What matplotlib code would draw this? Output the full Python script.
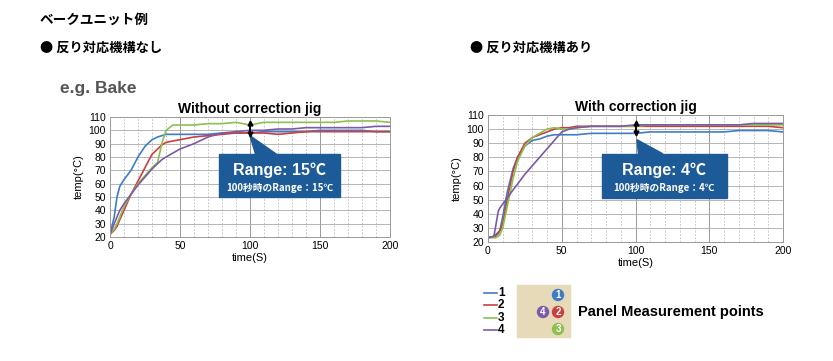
import matplotlib.pyplot as plt
from matplotlib.patches import Rectangle, Polygon, Circle

plt.rcParams['font.family'] = ['Liberation Sans', 'Noto Sans CJK JP', 'DejaVu Sans']

# ---- data ----
t_wo = [0, 3, 5, 7, 10, 15, 20, 25, 30, 34, 37, 40, 45, 50, 60, 70, 80, 90, 100,
        110, 120, 130, 140, 150, 160, 170, 180, 190, 200]
wo_1 = [22, 35, 50, 58, 63, 70, 80, 88, 93, 95, 96, 97, 97, 97, 97, 97, 98, 98, 98,
        99, 99, 99, 99, 100, 100, 100, 100, 99, 99]
wo_2 = [22, 25, 28, 33, 40, 52, 62, 72, 82, 86, 89, 91, 92, 93, 95, 96, 97, 98, 98,
        98, 97, 98, 99, 99, 99, 99, 99, 99, 99]
wo_3 = [22, 26, 30, 35, 43, 52, 60, 66, 72, 76, 90, 100, 104, 104, 104, 105, 105, 106, 104,
        106, 106, 106, 106, 106, 106, 107, 107, 107, 106]
wo_4 = [22, 30, 35, 40, 45, 52, 59, 65, 71, 75, 78, 80, 83, 86, 90, 95, 98, 99, 100,
        100, 101, 101, 102, 102, 102, 102, 102, 103, 103]

t_w = [0, 4, 5, 7, 8, 10, 13, 17, 20, 25, 30, 35, 40, 45, 50, 55, 60, 70, 80, 90, 100,
       110, 120, 130, 140, 150, 160, 170, 180, 190, 200]
w_1 = [23, 24, 25, 27, 28, 38, 55, 72, 80, 88, 92, 93, 95, 96, 96, 96, 96, 97, 97, 97, 97,
       98, 98, 98, 98, 98, 98, 99, 99, 99, 98]
w_2 = [23, 24, 24, 26, 28, 33, 50, 70, 80, 90, 94, 96, 98, 100, 101, 101, 102, 102, 102, 102, 102,
       102, 102, 102, 102, 102, 102, 102, 102, 102, 101]
w_3 = [23, 23, 23, 24, 25, 30, 45, 65, 77, 88, 94, 97, 100, 101, 100, 100, 101, 102, 102, 102, 102,
       103, 103, 103, 103, 103, 103, 103, 103, 103, 103]
w_4 = [23, 24, 30, 42, 44, 47, 51, 57, 61, 68, 74, 80, 86, 92, 98, 100, 101, 102, 102, 102, 103,
       103, 103, 103, 103, 103, 103, 103, 104, 104, 104]

series_labels = ['1', '2', '3', '4']
colors = ['#3f7cc4', '#c9403f', '#8dc04e', '#7b5aa8']

W, H = 833, 361
fig = plt.figure(figsize=(W / 100, H / 100), dpi=100)


def px_axes(x0, y0, x1, y1):
    # pixel box (top-left origin) -> figure axes
    return fig.add_axes([x0 / W, 1 - y1 / H, (x1 - x0) / W, (y1 - y0) / H])


def setup(ax, title):
    ax.set_xlim(0, 200)
    ax.set_ylim(20, 110)
    ax.set_xticks(range(0, 201, 50))
    ax.set_yticks(range(20, 111, 10))
    for x in range(10, 200, 10):
        if x % 50:
            ax.axvline(x, color='#bbbbbb', lw=0.6, ls=(0, (2, 2)), zorder=0)
        else:
            ax.axvline(x, color='#999999', lw=0.7, zorder=0)
    for y in range(30, 110, 10):
        ax.axhline(y, color='#aaaaaa', lw=0.6, zorder=0)
    for s in ax.spines.values():
        s.set_color('#999999')
        s.set_linewidth(0.7)
    ax.tick_params(length=0, labelsize=7.5, pad=3)
    ax.set_xlabel('time(S)', fontsize=8, labelpad=1)
    ax.set_ylabel('temp(°C)', fontsize=8, labelpad=3)
    ax.set_title(title, fontsize=10, fontweight='bold', pad=3)


def range_box(ax, tip, base, box, arrow, big, small):
    ax.add_patch(Polygon([tip, (base[0], box[3]), (base[1], box[3])],
                         closed=True, color='#1d5a98', zorder=5))
    ax.add_patch(Rectangle((box[0], box[1]), box[2] - box[0], box[3] - box[1],
                           color='#1d5a98', zorder=5))
    # double-headed range arrow at t = 100
    ax.plot([100, 100], arrow, color='black', lw=1.4, zorder=6)
    ax.plot(100, arrow[0], marker='v', color='black', ms=3.5, zorder=6)
    ax.plot(100, arrow[1], marker='^', color='black', ms=3.5, zorder=6)
    cx = (box[0] + box[2]) / 2
    ax.text(cx, box[1] + (box[3] - box[1]) * 0.62, big, color='white', fontsize=11.5,
            fontweight='bold', ha='center', va='center', zorder=7)
    ax.text(cx, box[1] + (box[3] - box[1]) * 0.22, small, color='white', fontsize=7,
            fontweight='bold', ha='center', va='center', zorder=7,
            family=['Noto Sans CJK JP', 'DejaVu Sans'])


# left chart
ax1 = px_axes(110, 117, 390, 237)
setup(ax1, 'Without correction jig')
for ys, c in zip([wo_1, wo_2, wo_3, wo_4], colors):
    ax1.plot(t_wo, ys, color=c, lw=1.2)
range_box(ax1, (100, 96), (104, 119), (78, 50, 164, 82), (97, 105.5),
          'Range: 15℃', '100秒時のRange：15℃')

# right chart
ax2 = px_axes(488, 115, 783, 242)
setup(ax2, 'With correction jig')
for ys, c in zip([w_1, w_2, w_3, w_4], colors):
    ax2.plot(t_w, ys, color=c, lw=1.2)
range_box(ax2, (101, 92.5), (102, 118.5), (77, 51, 162, 82.5), (97, 104),
          'Range: 4℃', '100秒時のRange：4℃')

# headings
jp = ['Noto Sans CJK JP', 'DejaVu Sans']
fig.text(40 / W, 1 - 20 / H, 'ベークユニット例', fontsize=9.8, va='center',
         fontweight='bold', family=jp)
fig.text(40 / W, 1 - 48 / H, '● 反り対応機構なし', fontsize=9.5, va='center',
         fontweight='bold', family=jp)
fig.text(470 / W, 1 - 48 / H, '● 反り対応機構あり', fontsize=9.5, va='center',
         fontweight='bold', family=jp)
fig.text(60 / W, 1 - 89 / H, 'e.g. Bake', fontsize=12.5, fontweight='bold',
         color='#555555', va='center')

# legend
lax = px_axes(470, 282, 800, 340)
lax.set_xlim(470, 800)
lax.set_ylim(340, 282)
lax.axis('off')
for i, (lab, c) in enumerate(zip(series_labels, colors)):
    y = 293 + i * 12.3
    lax.plot([484, 497], [y, y], color=c, lw=1.2)
    lax.text(498, y, lab, fontsize=8.5, fontweight='bold', va='center', ha='left')
lax.add_patch(Rectangle((517, 285), 53, 52, color='#e6dab9'))
spots = [(558, 295, '1', colors[0]), (558, 312, '2', colors[1]),
         (558, 329, '3', colors[2]), (543, 312, '4', colors[3])]
for x, y, lab, c in spots:
    lax.add_patch(Circle((x, y), 5.5, color=c))
    lax.text(x, y + 0.3, lab, color='white', fontsize=7, fontweight='bold',
             ha='center', va='center')
lax.text(578, 312, 'Panel Measurement points', fontsize=10.5, fontweight='bold',
         va='center', ha='left')

fig.savefig('out.png', dpi=100)
